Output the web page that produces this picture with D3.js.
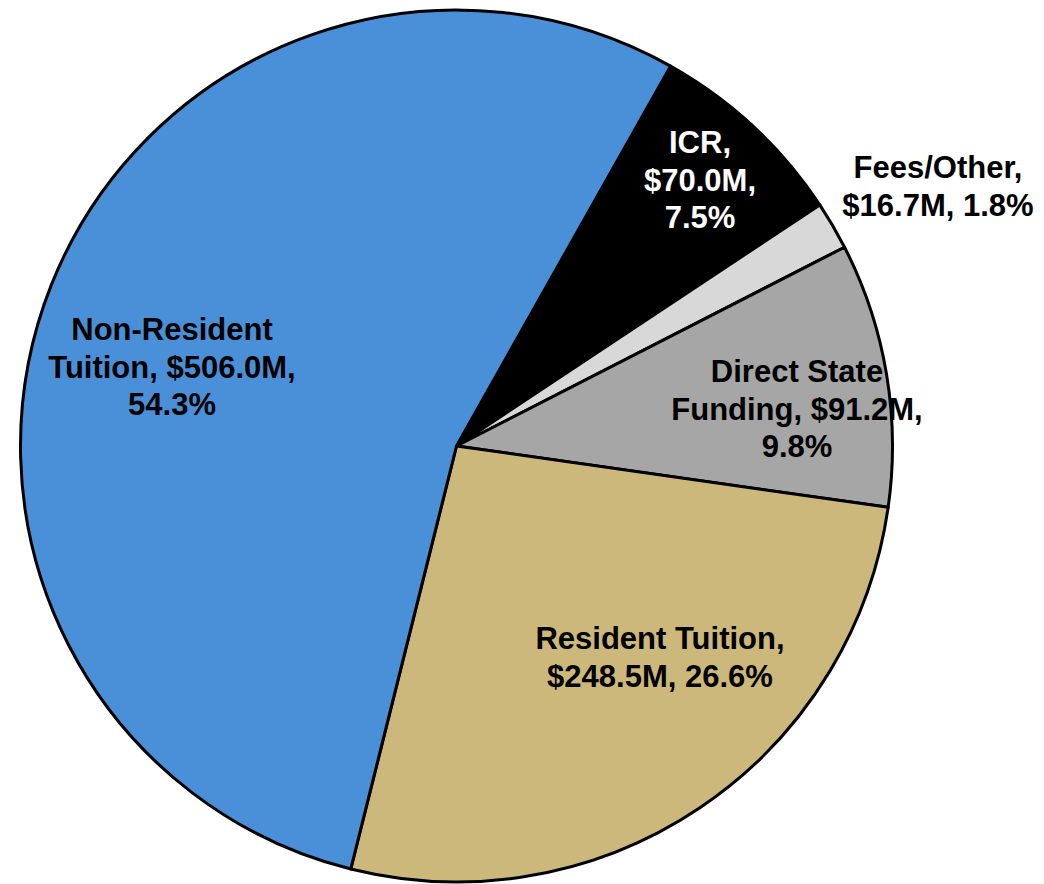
<!DOCTYPE html>
<html>
<head>
<meta charset="utf-8">
<script src="https://cdn.jsdelivr.net/npm/d3@7"></script>
<style>
  html, body { margin: 0; padding: 0; background: #ffffff; }
  svg { display: block; }
</style>
</head>
<body>
<svg id="chart" width="1044" height="884"></svg>
<script>
// Data (clockwise order starting at the ICR slice)
const categories = ["ICR", "Fees/Other", "Direct State Funding", "Resident Tuition", "Non-Resident Tuition"];
const amounts = [70.0, 16.7, 91.2, 248.5, 506.0];           // $M
const percents = [7.5, 1.8, 9.8, 26.6, 54.3];              // %
const labelLines = [
  ["ICR,", "$70.0M,", "7.5%"],
  ["Fees/Other,", "$16.7M, 1.8%"],
  ["Direct State", "Funding, $91.2M,", "9.8%"],
  ["Resident Tuition,", "$248.5M, 26.6%"],
  ["Non-Resident", "Tuition, $506.0M,", "54.3%"]
];

const colors = ["#000000", "#d8d8d8", "#a5a6a5", "#cdb87c", "#4a90d9"];
const textColors = ["#ffffff", "#000000", "#000000", "#000000", "#000000"];
// label anchor points (center x, first baseline y) in pixels
const labelPos = [[700, 153], [938, 178], [797, 382], [660, 649], [172, 340]];

const svg = d3.select("#chart");
const cx = 456.5, cy = 446, r = 436;
const start = 29.4 * Math.PI / 180;

const pie = d3.pie().sort(null).value(d => d)
  .startAngle(start).endAngle(start + 2 * Math.PI);
const arc = d3.arc().innerRadius(0).outerRadius(r);

const g = svg.append("g").attr("transform", `translate(${cx},${cy})`);
const arcs = pie(amounts);

g.selectAll("path.slice").data(arcs).enter().append("path")
  .attr("class", "slice")
  .attr("d", arc)
  .attr("fill", (d, i) => colors[i])
  .attr("stroke", "#000")
  .attr("stroke-width", 3)
  .attr("stroke-linejoin", "round");

const fontSize = 31, lineH = 37.5;
labelLines.forEach((lines, i) => {
  const t = svg.append("text")
    .attr("text-anchor", "middle")
    .attr("font-family", "'Liberation Sans', Arial, Helvetica, sans-serif")
    .attr("font-weight", "bold")
    .attr("font-size", fontSize)
    .attr("fill", textColors[i]);
  lines.forEach((ln, j) => {
    t.append("tspan")
      .attr("x", labelPos[i][0])
      .attr("y", labelPos[i][1] + j * lineH)
      .text(ln);
  });
});
</script>
</body>
</html>
